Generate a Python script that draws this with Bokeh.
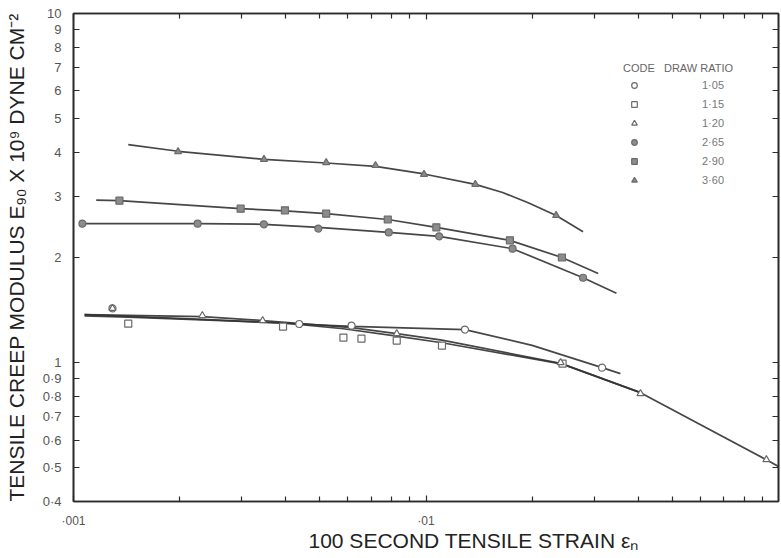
from bokeh.plotting import figure
from bokeh.models import (LogAxis, FixedTicker, CustomJSTickFormatter,
                          Legend, LegendItem, Range1d, Title)
from bokeh.embed import file_html
from bokeh.resources import INLINE

# ---------------------------------------------------------------- data
# 100 s tensile strain and tensile creep modulus (x 10^9 dyne cm^-2)
# measured points for each draw ratio
strain_105 = [0.00129, 0.00437, 0.00615, 0.0129, 0.0316]
modulus_105 = [1.43, 1.29, 1.276, 1.243, 0.967]

strain_115 = [0.00143, 0.00393, 0.00583, 0.00656, 0.00826, 0.0111, 0.0244]
modulus_115 = [1.293, 1.268, 1.179, 1.171, 1.156, 1.119, 0.993]

strain_120 = [0.00129, 0.00232, 0.00344, 0.00826, 0.0241, 0.0406, 0.0924]
modulus_120 = [1.43, 1.364, 1.319, 1.211, 1.0, 0.815, 0.527]

strain_265 = [0.00106, 0.00225, 0.00347, 0.00495, 0.00784, 0.0109, 0.0176, 0.0279]
modulus_265 = [2.50, 2.50, 2.49, 2.42, 2.36, 2.30, 2.12, 1.75]

strain_290 = [0.00135, 0.00298, 0.00398, 0.00521, 0.00779, 0.0107, 0.0173, 0.0243]
modulus_290 = [2.91, 2.76, 2.73, 2.67, 2.57, 2.44, 2.24, 2.00]

strain_360 = [0.00198, 0.00347, 0.00521, 0.00719, 0.00987, 0.0138, 0.0234]
modulus_360 = [4.02, 3.82, 3.74, 3.67, 3.46, 3.24, 2.64]

# hand-drawn smooth curves through each set of points
curve_x_105 = [0.001075, 0.00232, 0.00437, 0.00615, 0.0129, 0.02, 0.0316, 0.0356]
curve_y_105 = [1.372, 1.33, 1.29, 1.27, 1.243, 1.12, 0.967, 0.93]

curve_x_115 = [0.001075, 0.00143, 0.00393, 0.00583, 0.00826, 0.0111, 0.0244, 0.0406]
curve_y_115 = [1.36, 1.35, 1.30, 1.25, 1.19, 1.14, 0.99, 0.82]

curve_x_120 = [0.001075, 0.00232, 0.00344, 0.00615, 0.00826, 0.0111, 0.0241, 0.0406, 0.0924, 0.1026]
curve_y_120 = [1.372, 1.355, 1.32, 1.26, 1.211, 1.16, 0.995, 0.82, 0.527, 0.497]

curve_x_265 = [0.00106, 0.00225, 0.00347, 0.00495, 0.00784, 0.0109, 0.0176, 0.0279, 0.0347]
curve_y_265 = [2.50, 2.50, 2.49, 2.44, 2.36, 2.30, 2.12, 1.75, 1.58]

curve_x_290 = [0.00116, 0.00135, 0.00298, 0.00398, 0.00521, 0.00779, 0.0107, 0.0173, 0.0243, 0.0308]
curve_y_290 = [2.92, 2.91, 2.76, 2.72, 2.67, 2.57, 2.44, 2.24, 2.00, 1.80]

curve_x_360 = [0.00143, 0.00198, 0.00347, 0.00521, 0.00719, 0.00987, 0.0138, 0.0165, 0.0195, 0.0234, 0.0279]
curve_y_360 = [4.21, 4.03, 3.82, 3.73, 3.65, 3.47, 3.24, 3.07, 2.87, 2.64, 2.37]

draw_ratio_labels = ["1·05", "1·15", "1·20", "2·65", "2·90", "3·60"]

# axis ticks and their printed labels
x_major = [0.001, 0.01]
x_major_labels = ["·001", "·01"]
x_minor = [0.002, 0.003, 0.004, 0.005, 0.006, 0.007, 0.008, 0.009,
           0.02, 0.03, 0.04, 0.05, 0.06, 0.07, 0.08, 0.09]
y_major = [0.4, 0.5, 0.6, 0.7, 0.8, 0.9, 1, 2, 3, 4, 5, 6, 7, 8, 9, 10]
y_major_labels = ["0·4", "0·5", "0·6", "0·7", "0·8", "0·9", "1",
                  "2", "3", "4", "5", "6", "7", "8", "9", "10"]

x_title = "100 SECOND TENSILE STRAIN εₙ"
y_title = "TENSILE CREEP MODULUS E₉₀ X 10⁹ DYNE CM⁻²"

# ---------------------------------------------------------------- figure
INK = "#2b2b2b"
FONT = "Liberation Sans, Arial, sans-serif"

p = figure(width=781, height=558, x_axis_type="log", y_axis_type="log",
           x_range=Range1d(0.001, 0.1), y_range=Range1d(0.4, 10),
           output_backend="svg", toolbar_location=None,
           min_border_left=73, min_border_right=3,
           min_border_top=13, min_border_bottom=57)
p.grid.visible = False
p.outline_line_color = INK
p.outline_line_width = 1.6
p.background_fill_color = "white"
p.border_fill_color = "white"

label_code = """
for (let i = 0; i < vals.length; i++) {
  if (Math.abs(Math.log10(vals[i]) - Math.log10(tick)) < 1e-6) return labels[i];
}
return "";
"""
x_ticker = FixedTicker(ticks=x_major, minor_ticks=x_minor)
y_ticker = FixedTicker(ticks=y_major, minor_ticks=[])
x_fmt = CustomJSTickFormatter(args=dict(vals=x_major, labels=x_major_labels), code=label_code)
y_fmt = CustomJSTickFormatter(args=dict(vals=y_major, labels=y_major_labels), code=label_code)
blank_fmt = CustomJSTickFormatter(code='return "";')


def style_axis(ax):
    ax.axis_line_color = INK
    ax.axis_line_width = 1.6
    ax.major_tick_line_color = INK
    ax.minor_tick_line_color = INK
    ax.major_tick_line_width = 1.2
    ax.minor_tick_line_width = 1.2
    ax.major_tick_in = 6
    ax.major_tick_out = 0
    ax.minor_tick_in = 5
    ax.minor_tick_out = 0
    ax.major_label_text_font = FONT
    ax.major_label_text_color = "#555555"
    ax.axis_label_text_font = FONT
    ax.axis_label_text_font_size = "21px"
    ax.axis_label_text_font_style = "normal"
    ax.axis_label_text_color = "#222222"


for ax in p.xaxis:
    ax.ticker = x_ticker
    ax.formatter = x_fmt
    style_axis(ax)
    ax.major_label_text_font_size = "12px"
    ax.major_label_standoff = 12

for ax in p.yaxis:
    ax.ticker = y_ticker
    ax.formatter = y_fmt
    style_axis(ax)
    ax.major_label_text_font_size = "13px"
    ax.major_label_standoff = 12
    ax.axis_label = y_title
    ax.axis_label_standoff = 12

# tick-only frame edges on top and right
top_axis = LogAxis(ticker=x_ticker, formatter=blank_fmt)
style_axis(top_axis)
top_axis.major_label_text_font_size = "1px"
top_axis.major_label_standoff = 0
p.add_layout(top_axis, "above")

right_axis = LogAxis(ticker=y_ticker, formatter=blank_fmt)
style_axis(right_axis)
right_axis.major_label_text_font_size = "1px"
right_axis.major_label_standoff = 0
p.add_layout(right_axis, "right")

# x-axis title, set a little right of the frame centre
p.add_layout(Title(text=x_title, align="left", offset=235, standoff=-8,
                   text_font=FONT, text_font_size="21px", text_font_style="normal",
                   text_color="#222222"), "below")

# ---------------------------------------------------------------- curves and points
curves = [(curve_x_105, curve_y_105), (curve_x_115, curve_y_115), (curve_x_120, curve_y_120),
          (curve_x_265, curve_y_265), (curve_x_290, curve_y_290), (curve_x_360, curve_y_360)]
for cx, cy in curves:
    p.line(cx, cy, line_color="#333333", line_width=1.7, line_alpha=0.9)

points = [
    (strain_105, modulus_105, "circle", "white"),
    (strain_115, modulus_115, "square", "white"),
    (strain_120, modulus_120, "triangle", "white"),
    (strain_265, modulus_265, "circle", "#8c8c8c"),
    (strain_290, modulus_290, "square", "#8c8c8c"),
    (strain_360, modulus_360, "triangle", "#8c8c8c"),
]
marker_renderers = []
for sx, sy, mk, fill in points:
    r = p.scatter(sx, sy, marker=mk, size=7, fill_color=fill,
                  line_color="#6a6a6a", line_width=1.2)
    marker_renderers.append(r)

legend = Legend(
    items=[LegendItem(label=lab, renderers=[r])
           for lab, r in zip(draw_ratio_labels, marker_renderers)],
    title="CODE   DRAW RATIO",
    location=(550, 314),
    orientation="vertical",
    background_fill_alpha=0, border_line_alpha=0,
    padding=0, margin=0, spacing=5,
    glyph_width=22, glyph_height=14, label_height=14,
    label_standoff=57,
    label_text_font=FONT, label_text_font_size="11px", label_text_color="#777777",
    title_text_font=FONT, title_text_font_size="11px", title_text_color="#666666",
    title_text_font_style="normal", title_standoff=4,
)
p.add_layout(legend, "center")

open("out.html", "w").write(file_html(p, INLINE))
